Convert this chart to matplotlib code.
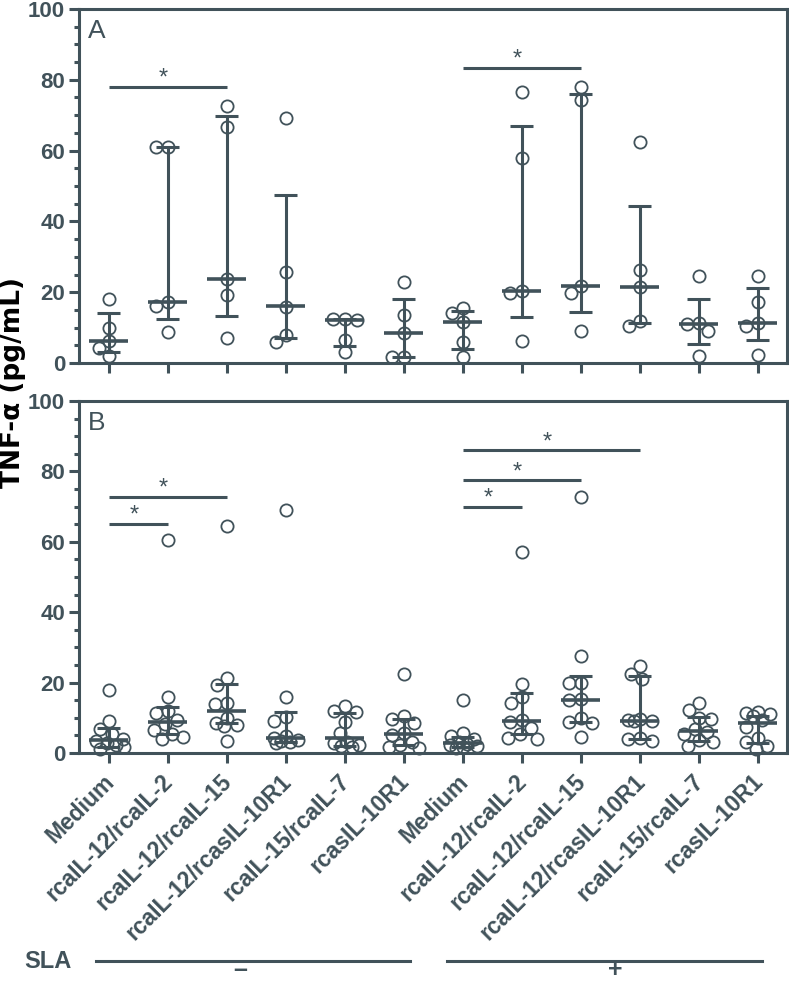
import numpy as np
import matplotlib
matplotlib.use("Agg")
import matplotlib.pyplot as plt
import matplotlib.transforms as mtransforms
from matplotlib.lines import Line2D
from matplotlib.ticker import MultipleLocator

# ---------------- data ----------------
categories = ["Medium", "rcaIL-12/rcaIL-2", "rcaIL-12/rcaIL-15",
              "rcaIL-12/rcasIL-10R1", "rcaIL-15/rcaIL-7", "rcasIL-10R1"] * 2

# Panel A values (n=5 per group)
A_vals = [
    [18.1, 10.0, 6.3, 4.2, 2.0],
    [61.0, 61.0, 17.1, 16.1, 8.7],
    [72.7, 66.7, 23.6, 19.1, 7.2],
    [69.2, 25.7, 15.9, 7.9, 6.0],
    [12.4, 12.4, 12.1, 6.5, 3.0],
    [22.8, 13.6, 8.4, 1.8, 1.6],
    [15.4, 14.0, 11.5, 6.0, 1.8],
    [76.5, 57.9, 20.4, 19.9, 6.3],
    [77.9, 74.3, 21.8, 19.9, 8.9],
    [62.5, 26.3, 21.4, 11.9, 10.5],
    [24.7, 11.2, 10.9, 8.9, 2.0],
    [24.7, 17.3, 11.4, 10.5, 2.4],
]
A_median = [6.2, 17.1, 23.6, 16.1, 12.1, 8.6, 11.5, 20.4, 21.8, 21.4, 10.9, 11.4]
A_q1 = [3.2, 12.4, 13.2, 7.0, 4.8, 1.7, 3.9, 13.1, 14.3, 11.2, 5.3, 6.5]
A_q3 = [14.1, 61.0, 69.7, 47.5, 12.4, 18.1, 14.8, 67.0, 76.0, 44.4, 18.0, 21.1]

# Panel B values (n=10 per group)
B_vals = [
    [17.8, 9.2, 6.8, 5.5, 4.0, 3.5, 2.8, 2.3, 1.8, 1.2],
    [60.5, 16.0, 12.0, 11.3, 9.5, 8.3, 6.5, 5.5, 4.5, 4.0],
    [64.4, 21.2, 19.3, 14.1, 13.9, 10.0, 8.4, 8.0, 7.8, 3.5],
    [69.0, 16.0, 10.1, 9.1, 4.8, 4.2, 3.8, 3.5, 3.2, 2.8],
    [13.4, 12.0, 11.6, 8.9, 5.8, 3.0, 2.8, 2.4, 2.0, 1.6],
    [22.4, 10.5, 9.6, 8.5, 5.8, 5.0, 3.2, 2.2, 1.8, 1.5],
    [15.0, 5.6, 4.8, 4.0, 3.0, 2.6, 2.2, 1.9, 1.6, 1.3],
    [57.1, 19.5, 16.0, 14.3, 9.4, 8.9, 7.0, 5.5, 4.2, 4.0],
    [72.7, 27.6, 20.0, 19.8, 15.3, 15.0, 10.0, 8.9, 8.5, 4.6],
    [24.7, 22.4, 20.9, 9.6, 9.4, 9.2, 9.0, 4.3, 4.0, 3.5],
    [14.1, 12.2, 10.0, 9.8, 6.7, 6.0, 5.5, 3.7, 3.0, 2.0],
    [11.6, 11.3, 11.0, 10.4, 9.5, 7.5, 4.4, 3.2, 2.0, 1.2],
]
B_median = [3.7, 8.9, 11.9, 4.4, 4.2, 5.4, 2.8, 9.1, 15.1, 9.2, 6.3, 8.4]
B_q1 = [1.6, 5.4, 8.4, 3.2, 2.0, 2.3, 1.7, 5.5, 8.7, 4.0, 3.4, 2.8]
B_q3 = [7.0, 13.2, 19.6, 11.6, 11.3, 9.6, 4.6, 17.0, 21.9, 21.9, 10.1, 10.5]

# significance bars: (start group, end group, height)
A_sig = [(0, 2, 78.0), (6, 8, 83.3)]
B_sig = [(0, 2, 72.8), (0, 1, 65.1), (6, 9, 86.0), (6, 8, 77.5), (6, 7, 69.9)]

sla_groups = ["–", "+"]

# ---------------- style ----------------
C = "#41525a"
FONT = ["Liberation Sans", "DejaVu Sans"]
plt.rcParams["font.family"] = FONT

W, H = 789, 983
fig = plt.figure(figsize=(W / 100, H / 100), dpi=100)
axA = fig.add_axes([79 / W, 1 - 363 / H, 708 / W, 354 / H])
axB = fig.add_axes([79 / W, 1 - 753 / H, 708 / W, 352 / H])

LW = 2.2
MS = 8.8


def swarm_offsets(vals, ppx, ppy, D=12.0, maxpx=15.0):
    """simple beeswarm layout (pixel space) -> offsets in data x units"""
    vals = np.asarray(vals, float)
    order = np.argsort(-vals, kind="stable")
    cands = np.arange(-maxpx, maxpx + 0.01, 1.0)
    cands = cands[np.argsort(np.abs(cands), kind="stable")]
    placed = []
    offs = np.zeros(len(vals))
    for i in order:
        y = vals[i] * ppy
        best, bestd, bd = None, -1, 0.0
        for c in cands:
            if not placed:
                best = c
                break
            d = min(np.hypot(c - px, y - py) for px, py in placed)
            if d >= D:
                best = c
                break
            if d > bestd + 0.5:
                bestd, bd = d, c
        if best is None:
            best = bd
        placed.append((best, y))
        offs[i] = best / ppx
    return offs


def draw_panel(ax, vals, med, q1, q3, sig, label, hpx):
    ppx = 708 / 12.0
    ppy = hpx / 100.0
    for i, v in enumerate(vals):
        off = swarm_offsets(v, ppx, ppy)
        ax.plot(i + off, v, "o", ms=MS, mfc="none", mec=C, mew=1.3,
                zorder=2, clip_on=False)
    x = np.arange(len(vals))
    ax.vlines(x, q1, q3, color=C, lw=LW, zorder=3)
    ax.hlines(q1, x - 0.19, x + 0.19, color=C, lw=LW, zorder=3)
    ax.hlines(q3, x - 0.19, x + 0.19, color=C, lw=LW, zorder=3)
    ax.hlines(med, x - 0.33, x + 0.33, color=C, lw=LW + 0.4, zorder=4)
    for a, b, h in sig:
        ax.hlines(h, a, b, color=C, lw=LW, zorder=3)
        ax.text((a + b) / 2 - 0.07, h + 0.6, "*", ha="center", va="baseline",
                fontsize=17, color=C)
    ax.set_xlim(-0.5, 11.5)
    ax.set_ylim(0, 100)
    ax.yaxis.set_major_locator(MultipleLocator(20))
    ax.yaxis.set_minor_locator(MultipleLocator(5))
    ax.set_xticks(x)
    for s in ax.spines.values():
        s.set_linewidth(LW)
        s.set_color(C)
    ax.tick_params(axis="both", which="major", length=7, width=LW, color=C,
                   labelcolor=C, labelsize=16, pad=3)
    ax.tick_params(axis="y", which="minor", length=3.5, width=LW, color=C)
    for t in ax.get_yticklabels():
        t.set_fontweight("bold")
    ax.text(0.012, 0.972, label, transform=ax.transAxes, ha="left", va="top",
            fontsize=19, color=C)


draw_panel(axA, A_vals, A_median, A_q1, A_q3, A_sig, "A", 354)
draw_panel(axB, B_vals, B_median, B_q1, B_q3, B_sig, "B", 352)

axA.set_xticklabels([])
axB.set_xticklabels(categories, rotation=45, ha="right", va="top",
                    rotation_mode="anchor", fontsize=16.5, fontweight="bold",
                    color=C)
axB.tick_params(axis="x", pad=3)
shift = mtransforms.ScaledTranslation(-0.06, -0.03, fig.dpi_scale_trans)
for lab in axB.get_xticklabels():
    lab.set_transform(lab.get_transform() + shift)

fig.text(13 / W, 1 - 383 / H, "TNF-α (pg/mL)", rotation=90, ha="center",
         va="center", fontsize=19, fontweight="bold", color="black",
         family=["DejaVu Sans"])

# SLA annotation
yl = 1 - 961 / H
fig.text(48 / W, yl, "SLA", ha="center", va="center", fontsize=17,
         fontweight="bold", color=C)
for (x0, x1), lab, xm in zip([(96, 410), (447, 762)], sla_groups, [240, 615]):
    fig.add_artist(Line2D([x0 / W, x1 / W], [yl, yl], lw=LW, color=C))
    fig.text(xm / W, 1 - 982 / H, lab, ha="center", va="bottom", fontsize=18,
             fontweight="bold", color=C)

fig.savefig("out.png", dpi=100)
